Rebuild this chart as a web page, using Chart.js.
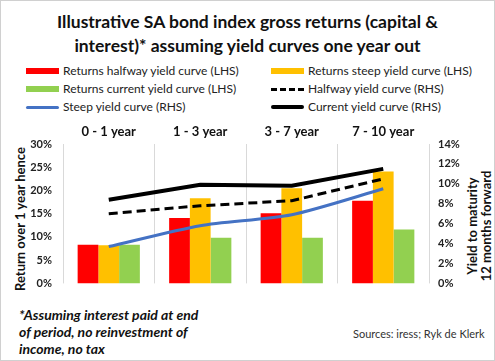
<!DOCTYPE html>
<html>
<head>
<meta charset="utf-8">
<script src="https://cdn.jsdelivr.net/npm/chart.js@4/dist/chart.umd.min.js"></script>
<style>
  body { margin: 0; background: #fff; font-family: Lato, "Open Sans", sans-serif; }
  .frame { position: relative; width: 493px; height: 359px; border: 1px solid #d0d0d0; overflow: hidden; }
  .title { position: absolute; left: 0; width: 493px; top: 9px; text-align: center; font-weight: bold; font-size: 17.5px; line-height: 24px; color: #111; }
  .leg { position: absolute; font-size: 12px; color: #222; white-space: nowrap; }
  .leg .mk { position: absolute; left: 0; width: 33px; }
  .leg span.t { position: absolute; top: -8px; }
  .ytitle { position: absolute; font-weight: bold; font-size: 13px; color: #111; white-space: nowrap; text-align: center; transform: rotate(-90deg); line-height: 14px; }
  .note { position: absolute; left: 18px; top: 305px; font-weight: bold; font-style: italic; font-size: 14px; line-height: 17px; color: #111; }
  .src { position: absolute; left: 352px; top: 326px; font-size: 11px; color: #333; }
  canvas { position: absolute; left: 0; top: 118px; }
</style>
</head>
<body>
<div class="frame">
  <div class="title">Illustrative SA bond index gross returns (capital &amp;<br>interest)* assuming yield curves one year out</div>
  <div id="legend"></div>
  <div class="ytitle" style="left:-56px; top:211px; width:150px;">Return over 1 year hence</div>
  <div class="ytitle" style="left:413px; top:211px; width:130px;">Yield to maturity<br>12 months forward</div>
  <canvas id="c" width="495" height="182"></canvas>
  <div class="note">*Assuming interest paid at end<br>of period, no reinvestment of<br>income, no tax</div>
  <div class="src">Sources: iress; Ryk de Klerk</div>
</div>
<script>
const categories = ['0 - 1 year', '1 - 3 year', '3 - 7 year', '7 - 10 year'];

// bars, left axis (%)
const returnsHalfway = [8.3, 14.1, 15.1, 17.8];
const returnsSteep = [8.2, 18.3, 20.5, 24.1];
const returnsCurrent = [8.3, 9.8, 9.8, 11.6];

// lines, right axis (%)
const halfwayYield = [7.0, 7.8, 8.3, 10.5];
const steepYield = [3.7, 5.8, 6.9, 9.5];
const currentYield = [8.4, 9.9, 9.8, 11.5];

const leftTicks = { min: 0, max: 30, step: 5 };
const rightTicks = { min: 0, max: 14, step: 2 };

// html legend, two columns
const legendItems = [
  { label: 'Returns halfway yield curve (LHS)', kind: 'bar', color: '#ff0000' },
  { label: 'Returns steep yield curve (LHS)', kind: 'bar', color: '#ffc000' },
  { label: 'Returns current yield curve (LHS)', kind: 'bar', color: '#92d050' },
  { label: 'Halfway yield curve (RHS)', kind: 'dash', color: '#000' },
  { label: 'Steep yield curve (RHS)', kind: 'line', color: '#4472c4' },
  { label: 'Current yield curve (RHS)', kind: 'thick', color: '#000' }
];
const legendEl = document.getElementById('legend');
legendItems.forEach((it, i) => {
  const col = i % 2, row = Math.floor(i / 2);
  const d = document.createElement('div');
  d.className = 'leg';
  d.style.left = (col ? 270 : 25) + 'px';
  d.style.top = (70 + row * 18) + 'px';
  let mk;
  if (it.kind === 'bar') mk = `<div class="mk" style="top:-3px;height:6px;background:${it.color}"></div>`;
  else if (it.kind === 'dash') mk = `<div class="mk" style="top:-1.5px;height:0;border-top:3px dashed ${it.color}"></div>`;
  else if (it.kind === 'thick') mk = `<div class="mk" style="top:-2px;height:4px;background:${it.color};border-radius:2px"></div>`;
  else mk = `<div class="mk" style="top:-1.5px;height:3px;background:${it.color};border-radius:2px"></div>`;
  d.innerHTML = mk + `<span class="t" style="left:37px">${it.label}</span>`;
  legendEl.appendChild(d);
});

const barOpts = { categoryPercentage: 0.68, barPercentage: 1, yAxisID: 'y', order: 2 };

new Chart(document.getElementById('c'), {
  type: 'bar',
  data: {
    labels: categories,
    datasets: [
      { type: 'line', label: 'Current yield curve (RHS)', data: currentYield, yAxisID: 'y1', borderColor: '#000', borderWidth: 4, pointRadius: 0, order: 0 },
      { type: 'line', label: 'Halfway yield curve (RHS)', data: halfwayYield, yAxisID: 'y1', borderColor: '#000', borderWidth: 3, borderDash: [9, 5], pointRadius: 0, order: 0 },
      { type: 'line', label: 'Steep yield curve (RHS)', data: steepYield, yAxisID: 'y1', borderColor: '#4472c4', borderWidth: 3, pointRadius: 0, tension: 0.25, order: 0 },
      { label: 'Returns halfway yield curve (LHS)', data: returnsHalfway, backgroundColor: '#ff0000', ...barOpts },
      { label: 'Returns steep yield curve (LHS)', data: returnsSteep, backgroundColor: '#ffc000', ...barOpts },
      { label: 'Returns current yield curve (LHS)', data: returnsCurrent, backgroundColor: '#92d050', ...barOpts }
    ]
  },
  options: {
    responsive: false,
    animation: false,
    layout: { padding: { bottom: 7 } },
    plugins: { legend: { display: false }, tooltip: { enabled: false } },
    scales: {
      x: {
        position: 'top',
        grid: { color: '#d9d9d9', drawTicks: false },
        border: { display: false },
        ticks: { color: '#111', font: { family: 'Lato', size: 13, weight: 'bold' }, padding: 4 },
        afterFit: (s) => { s.height = 25; }
      },
      y: {
        position: 'left',
        min: leftTicks.min, max: leftTicks.max,
        grid: { display: false, drawTicks: false },
        border: { display: false },
        ticks: { stepSize: leftTicks.step, padding: 11, color: '#222', font: { family: 'Lato', size: 11, weight: 'bold' }, callback: (v) => v + '%' },
        afterFit: (s) => { s.width = 62; }
      },
      y1: {
        position: 'right',
        min: rightTicks.min, max: rightTicks.max,
        grid: { display: false, drawTicks: false },
        border: { display: false },
        ticks: { stepSize: rightTicks.step, padding: 9, color: '#222', font: { family: 'Lato', size: 11, weight: 'bold' }, callback: (v) => v + '%' },
        afterFit: (s) => { s.width = 67; }
      }
    }
  }
});
</script>
</body>
</html>
